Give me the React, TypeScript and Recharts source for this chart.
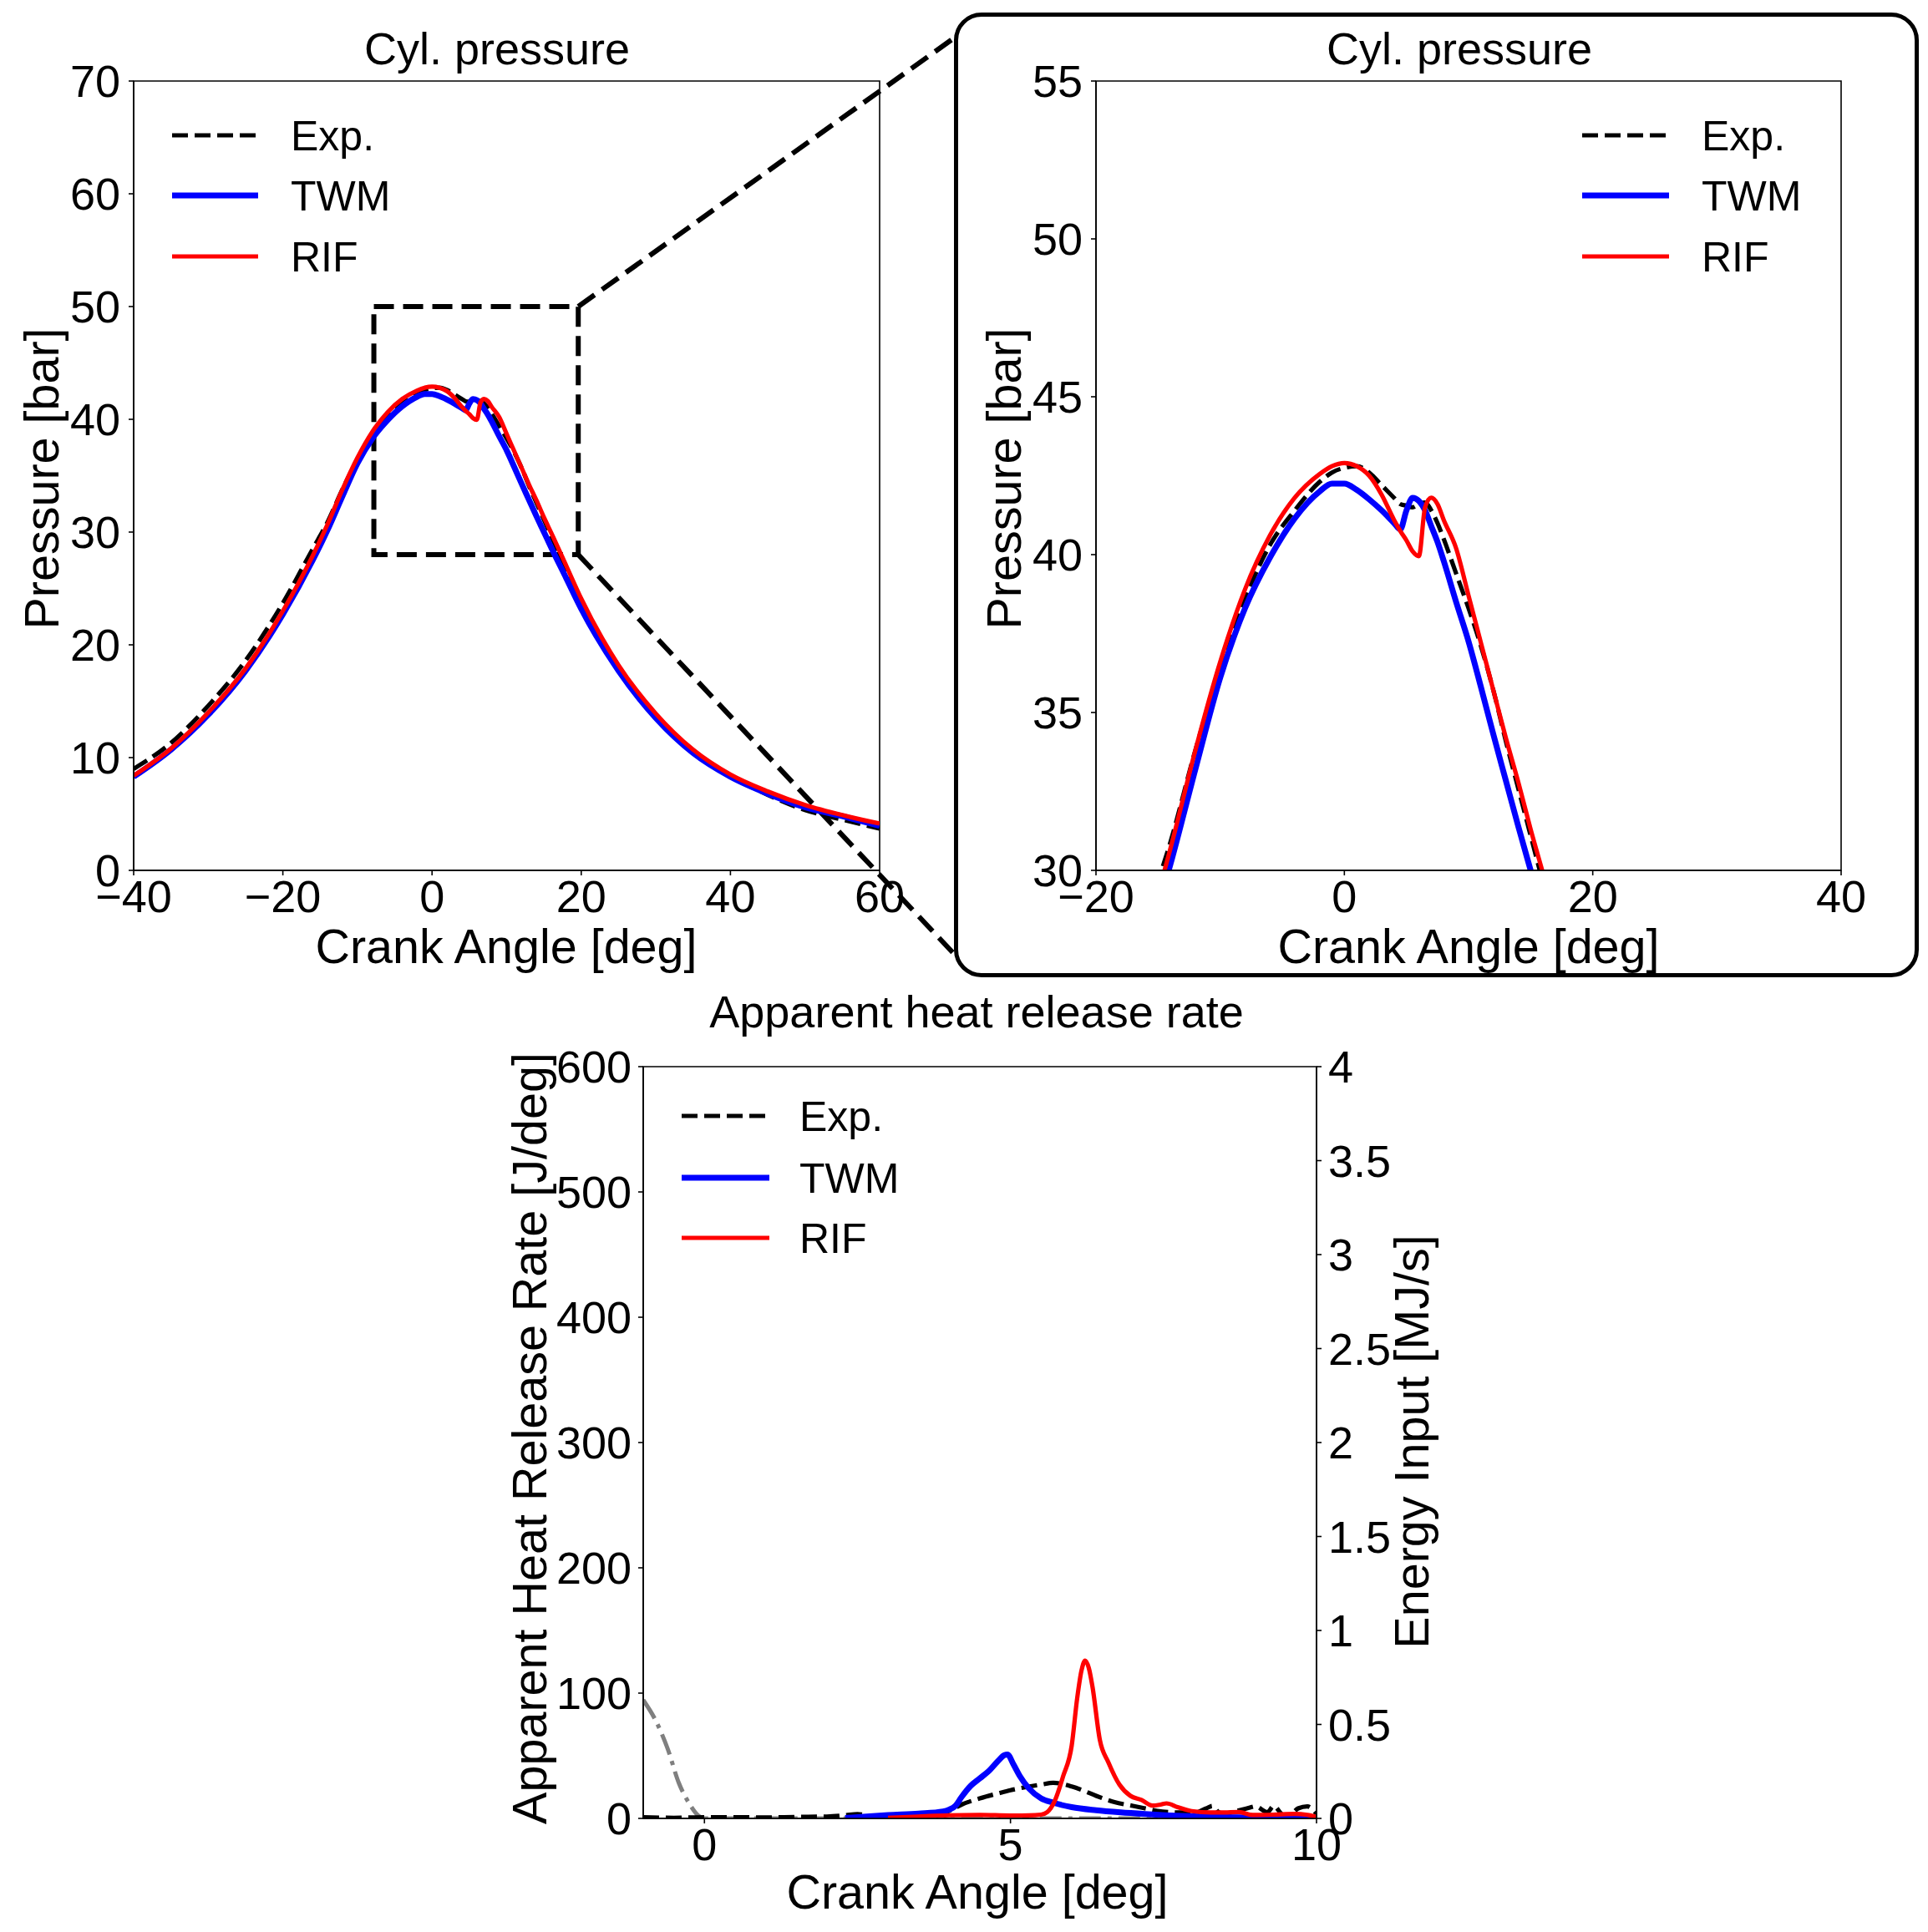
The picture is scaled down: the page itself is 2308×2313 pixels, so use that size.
import React from 'react';
import { LineChart, Line, XAxis, YAxis, ReferenceArea } from 'recharts';

const FONT = "'Liberation Sans', Arial, Helvetica, sans-serif";
const FS_TICK = 54;
const FS_TITLE = 54;
const FS_LABEL = 57.5;
const FS_LEGEND = 50;

// ---------- Series style / legend ----------
const seriesNames = ['Exp.', 'TWM', 'RIF'];
const seriesColors = ['#000000', '#0000ff', '#ff0000'];
const seriesWidths = [5.2, 7, 5.2];
const seriesDash: (string | undefined)[] = ['19 8', undefined, undefined];

// ---------- Cylinder pressure (bar) vs crank angle (deg) ----------
const pressureAngle = [-40, -35, -30, -25, -20, -16, -14, -12, -10, -8, -6, -4, -2, -1, 0, 1, 2, 3, 4, 4.5, 5, 5.5, 6, 6.5, 7, 7.5, 8, 9, 10, 11, 12, 13, 14, 15, 16, 18, 20, 25, 30, 35, 40, 45, 50, 55, 60];
const pressureExp = [9.0, 11.3, 14.6, 18.6, 23.7, 28.5, 30.9, 33.8, 36.4, 38.6, 40.3, 41.4, 42.3, 42.6, 42.75, 42.8, 42.6, 42.2, 41.8, 41.6, 41.55, 41.5, 41.6, 41.65, 41.4, 41.0, 40.5, 39.4, 38.3, 37.1, 35.7, 34.1, 32.6, 31.1, 29.6, 26.7, 23.9, 18.1, 13.8, 10.6, 8.4, 6.7, 5.35, 4.5, 3.7];
const pressureTwm = [8.3, 10.7, 13.8, 17.7, 22.7, 27.5, 30.2, 33.2, 36.1, 38.3, 39.9, 41.15, 42.0, 42.25, 42.25, 42.05, 41.75, 41.4, 41.0, 40.8, 41.4, 41.8, 41.7, 41.4, 40.9, 40.4, 39.8, 38.5, 37.25, 35.8, 34.3, 32.85, 31.4, 30.0, 28.6, 25.9, 23.2, 17.7, 13.5, 10.4, 8.3, 6.8, 5.6, 4.8, 3.95];
const pressureRif = [8.4, 10.8, 14.0, 17.9, 23.0, 27.9, 30.7, 33.8, 36.6, 38.9, 40.6, 41.8, 42.55, 42.8, 42.9, 42.8, 42.5, 41.9, 41.1, 40.75, 40.45, 40.1, 39.95, 41.5, 41.8, 41.6, 41.1, 40.2, 38.7, 37.2, 35.7, 34.2, 32.8, 31.3, 29.9, 27.0, 24.1, 18.2, 13.9, 10.7, 8.5, 7.0, 5.8, 4.9, 4.15];

// ---------- Apparent heat release rate (J/deg) ----------
const hrrExpAngle = [-1, -0.5, 0, 0.5, 1, 1.5, 2, 2.3, 2.5, 2.7, 3, 3.5, 3.8, 4.0, 4.2, 4.5, 4.8, 5.0, 5.2, 5.5, 5.7, 6.0, 6.2, 6.4, 6.7, 7.0, 7.2, 7.4, 7.6, 7.8, 8.0, 8.2, 8.3, 8.4, 8.5, 8.7, 8.9, 9.0, 9.2, 9.3, 9.45, 9.55, 9.7, 9.85, 10];
const hrrExp = [1, 0.5, 1, 1, 0.8, 1.2, 1.5, 2.5, 3.5, 2, 1.2, 1, 2, 6, 11, 16, 20, 22.5, 24.5, 27, 28.4, 25.5, 22, 18, 13, 10, 8, 6, 5, 4.7, 4.5, 8, 10, 5, 3.6, 6, 8.5, 9.6, 5, 10, 3, 2.5, 8, 9.6, 3.6];
const hrrTwmAngle = [2.3, 2.6, 3.0, 3.5, 3.9, 4.0, 4.1, 4.2, 4.35, 4.5, 4.65, 4.8, 4.9, 4.95, 5.05, 5.15, 5.3, 5.5, 5.7, 6.0, 6.4, 6.8, 7.2, 7.6, 8.0, 8.5, 9.0, 9.5, 10];
const hrrTwm = [0.3, 1.3, 2.6, 3.8, 5.5, 7, 10, 17, 26, 32, 38, 46, 50.5, 51, 43, 34, 24, 16, 12.5, 9, 6.5, 4.8, 3.5, 2.4, 1.6, 1.0, 0.6, 0.3, 0.3];
const hrrRifAngle = [3.0, 3.5, 4.0, 4.5, 5.0, 5.3, 5.5, 5.6, 5.72, 5.86, 6.0, 6.09, 6.16, 6.22, 6.28, 6.34, 6.46, 6.6, 6.78, 6.96, 7.14, 7.32, 7.45, 7.55, 7.73, 7.96, 8.28, 8.5, 8.73, 8.96, 9.3, 9.64, 9.85, 10];
const hrrRif = [0.5, 1.5, 2.5, 2.8, 2.3, 2.4, 3, 5, 13.6, 33.6, 58, 96, 118, 126, 120, 105, 62.6, 44.7, 27, 18, 14.7, 10.2, 11, 12, 9, 5.8, 4.7, 4.8, 5.1, 2.7, 3, 3.6, 2.8, 1.3];

// ---------- Energy input (MJ/s), right axis ----------
const energyAngle = [-1, -0.78, -0.6, -0.42, -0.24, -0.1, 0, 10];
const energyInput = [0.63, 0.51, 0.37, 0.19, 0.075, 0.015, 0, 0];

// ---------- Ticks ----------
const pXTicks = [-40, -20, 0, 20, 40, 60];
const pYTicks = [0, 10, 20, 30, 40, 50, 60, 70];
const zXTicks = [-20, 0, 20, 40];
const zYTicks = [30, 35, 40, 45, 50, 55];
const hXTicks = [0, 5, 10];
const hYTicks = [0, 100, 200, 300, 400, 500, 600];
const eYTicks = [0, 0.5, 1, 1.5, 2, 2.5, 3, 3.5, 4];

// zoom window drawn on the overview plot
const zoomWinX = [-7.8, 19.6];
const zoomWinY = [28, 50];

const toPts = (xs: number[], ys: number[]) => xs.map((x, i) => ({ x, y: ys[i] }));
const pSeries = [pressureExp, pressureTwm, pressureRif].map((ys) => toPts(pressureAngle, ys));
const hSeries = [toPts(hrrExpAngle, hrrExp), toPts(hrrTwmAngle, hrrTwm), toPts(hrrRifAngle, hrrRif)];
const eSeries = toPts(energyAngle, energyInput);

const fmt = (v: number) => String(v).replace('-', '\u2212');
const tickStyle = { fontSize: FS_TICK, fill: '#000', fontFamily: FONT };
const AX = '#000';
const AXW = 1.6;

// layout of inset frame (page coords)
const BOX = { left: 1144, top: 17, right: 2294, bottom: 1167, r: 33 };
const CONN_TOP = { x: 1140, y: 47 };
const CONN_BOT = { x: 1143, y: 1143 };

const ZoomShape = (props: any) => {
  const { x, y, width, height } = props;
  const st = { stroke: '#000', strokeWidth: 6, strokeDasharray: '24 11', fill: 'none' };
  return (
    <g>
      <rect x={x} y={y} width={width} height={height} {...st} />
      <line x1={x + width} y1={y} x2={CONN_TOP.x} y2={CONN_TOP.y} {...st} />
      <line x1={x + width} y1={y + height} x2={CONN_BOT.x} y2={CONN_BOT.y} {...st} />
    </g>
  );
};

function seriesLines(data: { x: number; y: number }[][]) {
  return data.map((d, i) => (
    <Line
      key={seriesNames[i]}
      data={d}
      dataKey="y"
      type="monotone"
      stroke={seriesColors[i]}
      strokeWidth={seriesWidths[i]}
      strokeDasharray={seriesDash[i]}
      dot={false}
      activeDot={false}
      isAnimationActive={false}
      name={seriesNames[i]}
    />
  ));
}

function Frame({ xd, yd, yId }: { xd: number[]; yd: number[]; yId?: string }) {
  return (
    <ReferenceArea
      x1={xd[0]}
      x2={xd[1]}
      y1={yd[0]}
      y2={yd[1]}
      yAxisId={yId}
      fill="none"
      fillOpacity={0}
      stroke={AX}
      strokeWidth={AXW}
    />
  );
}

function LegendBlock({ x0, x1, tx, ys }: { x0: number; x1: number; tx: number; ys: number[] }) {
  return (
    <g>
      {seriesNames.map((n, i) => (
        <g key={n}>
          <line x1={x0} x2={x1} y1={ys[i]} y2={ys[i]} stroke={seriesColors[i]} strokeWidth={seriesWidths[i]} strokeDasharray={seriesDash[i]} />
          <text x={tx} y={ys[i]} dy="0.36em" fontSize={FS_LEGEND} fontFamily={FONT} fill="#000">{n}</text>
        </g>
      ))}
    </g>
  );
}

const title = { fontSize: FS_TITLE, fontFamily: FONT, fill: '#000' } as const;
const label = { fontSize: FS_LABEL, fontFamily: FONT, fill: '#000' } as const;

export default function App() {
  return (
    <div style={{ position: 'absolute', left: 0, top: 0, width: 2308, height: 2313, overflow: 'hidden', background: '#fff' }}>
      {/* Overview pressure */}
      <div style={{ position: 'absolute', left: 0, top: 0 }}>
        <LineChart width={1150} height={1180} margin={{ top: 97, right: 97, bottom: 78, left: 60 }}>
          <XAxis dataKey="x" type="number" domain={[-40, 60]} ticks={pXTicks} interval={0} allowDataOverflow
            tickFormatter={fmt} tick={tickStyle} tickSize={6} tickMargin={6} height={60} stroke={AX} axisLine={{ strokeWidth: AXW }} tickLine={{ strokeWidth: AXW }} />
          <YAxis type="number" domain={[0, 70]} ticks={pYTicks} interval={0} allowDataOverflow
            tick={tickStyle} tickSize={6} tickMargin={10} width={100} stroke={AX} axisLine={{ strokeWidth: AXW }} tickLine={{ strokeWidth: AXW }} />
          <Frame xd={[-40, 60]} yd={[0, 70]} />
          {seriesLines(pSeries)}
          <ReferenceArea x1={zoomWinX[0]} x2={zoomWinX[1]} y1={zoomWinY[0]} y2={zoomWinY[1]} shape={ZoomShape} />
        </LineChart>
      </div>

      {/* Inset frame */}
      <div style={{
        position: 'absolute', left: BOX.left - 2.5, top: BOX.top - 2.5,
        width: BOX.right - BOX.left + 5, height: BOX.bottom - BOX.top + 5,
        border: '5px solid #000', borderRadius: BOX.r, boxSizing: 'border-box',
      }} />

      {/* Zoomed pressure */}
      <div style={{ position: 'absolute', left: 1160, top: 0 }}>
        <LineChart width={1130} height={1180} margin={{ top: 97, right: 86, bottom: 78, left: 52 }}>
          <XAxis dataKey="x" type="number" domain={[-20, 40]} ticks={zXTicks} interval={0} allowDataOverflow
            tickFormatter={fmt} tick={tickStyle} tickSize={6} tickMargin={6} height={60} stroke={AX} axisLine={{ strokeWidth: AXW }} tickLine={{ strokeWidth: AXW }} />
          <YAxis type="number" domain={[30, 55]} ticks={zYTicks} interval={0} allowDataOverflow
            tick={tickStyle} tickSize={6} tickMargin={10} width={100} stroke={AX} axisLine={{ strokeWidth: AXW }} tickLine={{ strokeWidth: AXW }} />
          <Frame xd={[-20, 40]} yd={[30, 55]} />
          {seriesLines(pSeries)}
        </LineChart>
      </div>

      {/* Heat release */}
      <div style={{ position: 'absolute', left: 560, top: 1190 }}>
        <LineChart width={1200} height={1123} margin={{ top: 87, right: 34, bottom: 76, left: 60 }}>
          <XAxis dataKey="x" type="number" domain={[-1, 10]} ticks={hXTicks} interval={0} allowDataOverflow
            tick={tickStyle} tickSize={6} tickMargin={6} height={60} stroke={AX} axisLine={{ strokeWidth: AXW }} tickLine={{ strokeWidth: AXW }} />
          <YAxis yAxisId="left" type="number" domain={[0, 600]} ticks={hYTicks} interval={0} allowDataOverflow
            tick={tickStyle} tickSize={6} tickMargin={8} width={150} stroke={AX} axisLine={{ strokeWidth: AXW }} tickLine={{ strokeWidth: AXW }} />
          <YAxis yAxisId="right" orientation="right" type="number" domain={[0, 4]} ticks={eYTicks} interval={0} allowDataOverflow
            tick={tickStyle} tickSize={6} tickMargin={8} width={150} stroke={AX} axisLine={{ strokeWidth: AXW }} tickLine={{ strokeWidth: AXW }} />
          <Frame xd={[-1, 10]} yd={[0, 600]} yId="left" />
          <Line yAxisId="right" data={eSeries} dataKey="y" type="monotone" stroke="#7f7f7f" strokeWidth={5}
            strokeDasharray="26 8 5 8" dot={false} activeDot={false} isAnimationActive={false} name="Energy input" />
          {hSeries.map((d, i) => (
            <Line key={seriesNames[i]} yAxisId="left" data={d} dataKey="y" type="monotone" stroke={seriesColors[i]}
              strokeWidth={seriesWidths[i]} strokeDasharray={seriesDash[i]} dot={false} activeDot={false}
              isAnimationActive={false} name={seriesNames[i]} />
          ))}
        </LineChart>
      </div>

      {/* Titles, axis labels, legends */}
      <svg width={2308} height={2313} style={{ position: 'absolute', left: 0, top: 0, pointerEvents: 'none' }}>
        <text x={595} y={77} textAnchor="middle" {...title}>Cyl. pressure</text>
        <text x={606} y={1153} textAnchor="middle" {...label}>Crank Angle [deg]</text>
        <text transform="translate(70,573) rotate(-90)" textAnchor="middle" {...label}>Pressure [bar]</text>
        <LegendBlock x0={206} x1={309} tx={348} ys={[162, 234, 307]} />

        <text x={1747} y={77} textAnchor="middle" {...title}>Cyl. pressure</text>
        <text x={1758} y={1153} textAnchor="middle" {...label}>Crank Angle [deg]</text>
        <text transform="translate(1222,573) rotate(-90)" textAnchor="middle" {...label}>Pressure [bar]</text>
        <LegendBlock x0={1894} x1={1998} tx={2037} ys={[162, 234, 307]} />

        <text x={1169} y={1230} textAnchor="middle" {...title}>Apparent heat release rate</text>
        <text x={1170} y={2285} textAnchor="middle" {...label}>Crank Angle [deg]</text>
        <text transform="translate(654,1722) rotate(-90)" textAnchor="middle" {...label}>Apparent Heat Release Rate [J/deg]</text>
        <text transform="translate(1710,1726) rotate(-90)" textAnchor="middle" {...label}>Energy Input [MJ/s]</text>
        <LegendBlock x0={816} x1={921} tx={957} ys={[1336, 1410, 1482]} />
      </svg>
    </div>
  );
}
